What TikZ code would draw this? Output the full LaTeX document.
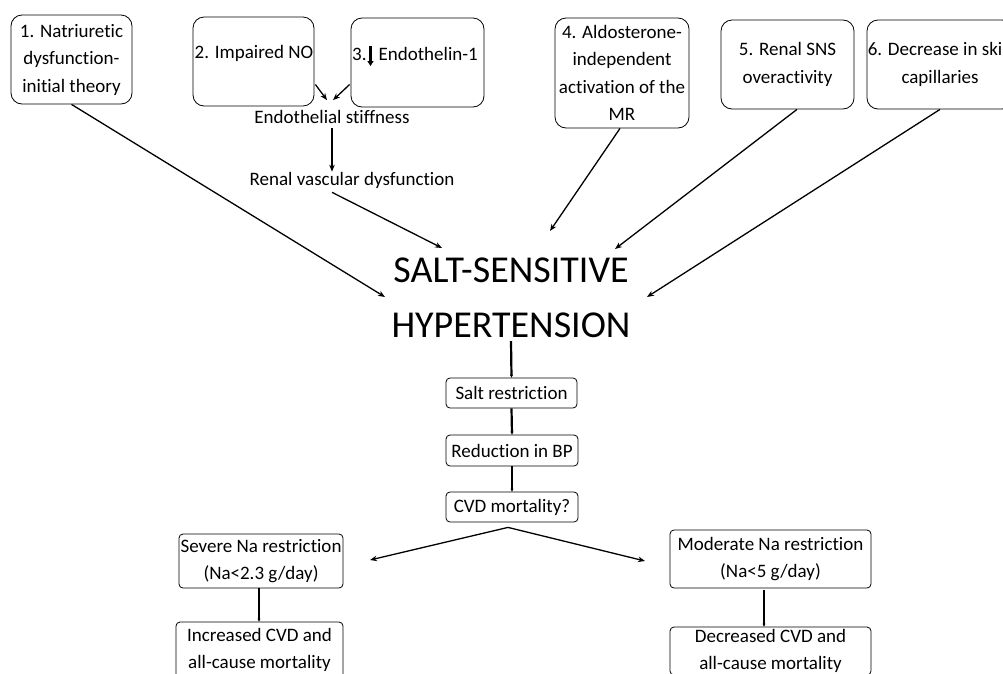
\documentclass[tikz,border=0pt]{standalone}
\usepackage{fontspec}
\setmainfont{Carlito}[Ligatures={NoCommon}]
\usetikzlibrary{arrows.meta,calc}
\newcommand\boxtxt{\fontsize{19}{27.5}\selectfont}
\newcommand\bigtxt{\fontsize{38}{55}\selectfont}
\tikzset{
  bx/.style={draw, rounded corners=11pt, line width=0.8pt, align=center, inner sep=0pt, font=\boxtxt},
  sbx/.style={draw, rounded corners=4pt, line width=0.8pt, align=center, inner sep=0pt, font=\boxtxt},
  lbl/.style={inner sep=0pt, align=center, font=\boxtxt},
  arr/.style={-{Stealth[length=7pt,width=5.5pt]}, line width=1.3pt},
  thk/.style={-{Stealth[length=3pt,width=3pt]}, line width=2.2pt},
}
\begin{document}
\begin{tikzpicture}[x=1pt,y=-1pt]
\useasboundingbox (0,0) rectangle (1003,673);
\clip (0,0) rectangle (1003,673);
% top boxes
\node[bx, minimum width=121pt, minimum height=89pt] (b1) at (71.5,59.5) {1. Natriuretic\\dysfunction-\\initial theory};
\node[bx, minimum width=121pt, minimum height=89pt] (b2) at (253.5,61.5) {};
\node[lbl] (t2) at (254,53) {2. Impaired NO};
\node[bx, minimum width=133pt, minimum height=89pt] (b3) at (417.5,62.5) {};
\node[lbl, anchor=base west] (t3) at (352,60) {3.\hspace{12pt}Endothelin-1};
\draw[-{Triangle[length=5pt,width=6pt]}, line width=2.4pt] (370.5,46) -- (370.5,66);
\node[bx, minimum width=134pt, minimum height=110pt] (b4) at (622,73) {4. Aldosterone-\\independent\\activation of the\\MR};
\node[bx, minimum width=133pt, minimum height=89pt] (b5) at (787.5,64.5) {5. Renal SNS\\overactivity};
\node[bx, minimum width=146pt, minimum height=89pt] (b6) at (940,64.5) {6. Decrease in skin\\capillaries};
% intermediate labels
\node[lbl, inner sep=4pt] (stiff) at (332,117) {Endothelial stiffness};
\node[lbl] (renal) at (352,180) {Renal vascular dysfunction};
% central
\node[inner sep=3pt, align=center, font=\bigtxt] (ssh) at (511,298) {SALT-SENSITIVE\\HYPERTENSION};
\coordinate (i1) at (385,297);
\coordinate (i2) at (442,248);
\coordinate (i4) at (550,231);
\coordinate (i5) at (615,249);
\coordinate (i6) at (647,297);
% chain
\node[sbx, minimum width=131pt, minimum height=30pt] (salt) at (511.5,393) {Salt restriction};
\node[sbx, minimum width=132pt, minimum height=31pt] (red) at (512,450.5) {Reduction in BP};
\node[sbx, minimum width=132pt, minimum height=30pt] (cvd) at (512,507) {CVD mortality?};
\node[sbx, minimum width=164pt, minimum height=54pt] (sev) at (261,561) {Severe Na restriction\\(Na<2.3 g/day)};
\node[sbx, minimum width=167pt, minimum height=56pt] (inc) at (259.5,650) {Increased CVD and\\all-cause mortality};
\node[sbx, minimum width=201pt, minimum height=58pt] (mod) at (770.5,559) {Moderate Na restriction\\(Na<5 g/day)};
\node[sbx, minimum width=201pt, minimum height=48pt] (dec) at (770.5,651) {Decreased CVD and\\all-cause mortality};
\coordinate (sv) at (370,560);
\coordinate (md) at (645,561);
% connectors
\draw[arr] ($(b2.east)+(1,23)$) -- ($(stiff.north)+(-5,-6)$);
\draw[arr] ($(b3.west)+(-1,22)$) -- ($(stiff.north)+(1,-6)$);
\draw[arr] (stiff.south) -- (renal.north -| stiff.south);
\draw[arr] ($(renal.south)+(-20,4)$) -- (i2);
\draw[arr] (b1.south) -- (i1);
\draw[arr] ($(b4.south)+(-2,0)$) -- (i4);
\draw[arr] ($(b5.south)+(9.5,0)$) -- (i5);
\draw[arr] (b6.south) -- (i6);
\draw[thk] (ssh.south) -- (salt.north);
\draw[thk] (salt.south) -- (red.north);
\draw[thk] (red.south) -- (cvd.north);
\draw[arr] ($(cvd.south)+(-4,5)$) -- (sv);
\draw[arr] ($(cvd.south)+(-4,5)$) -- (md);
\draw[thk] ($(sev.south)+(-2,0)$) -- (inc.north -| 259,0);
\draw[thk] ($(mod.south)+(-6.5,2)$) -- ($(dec.north)+(-6.5,0)$);
\end{tikzpicture}
\end{document}
